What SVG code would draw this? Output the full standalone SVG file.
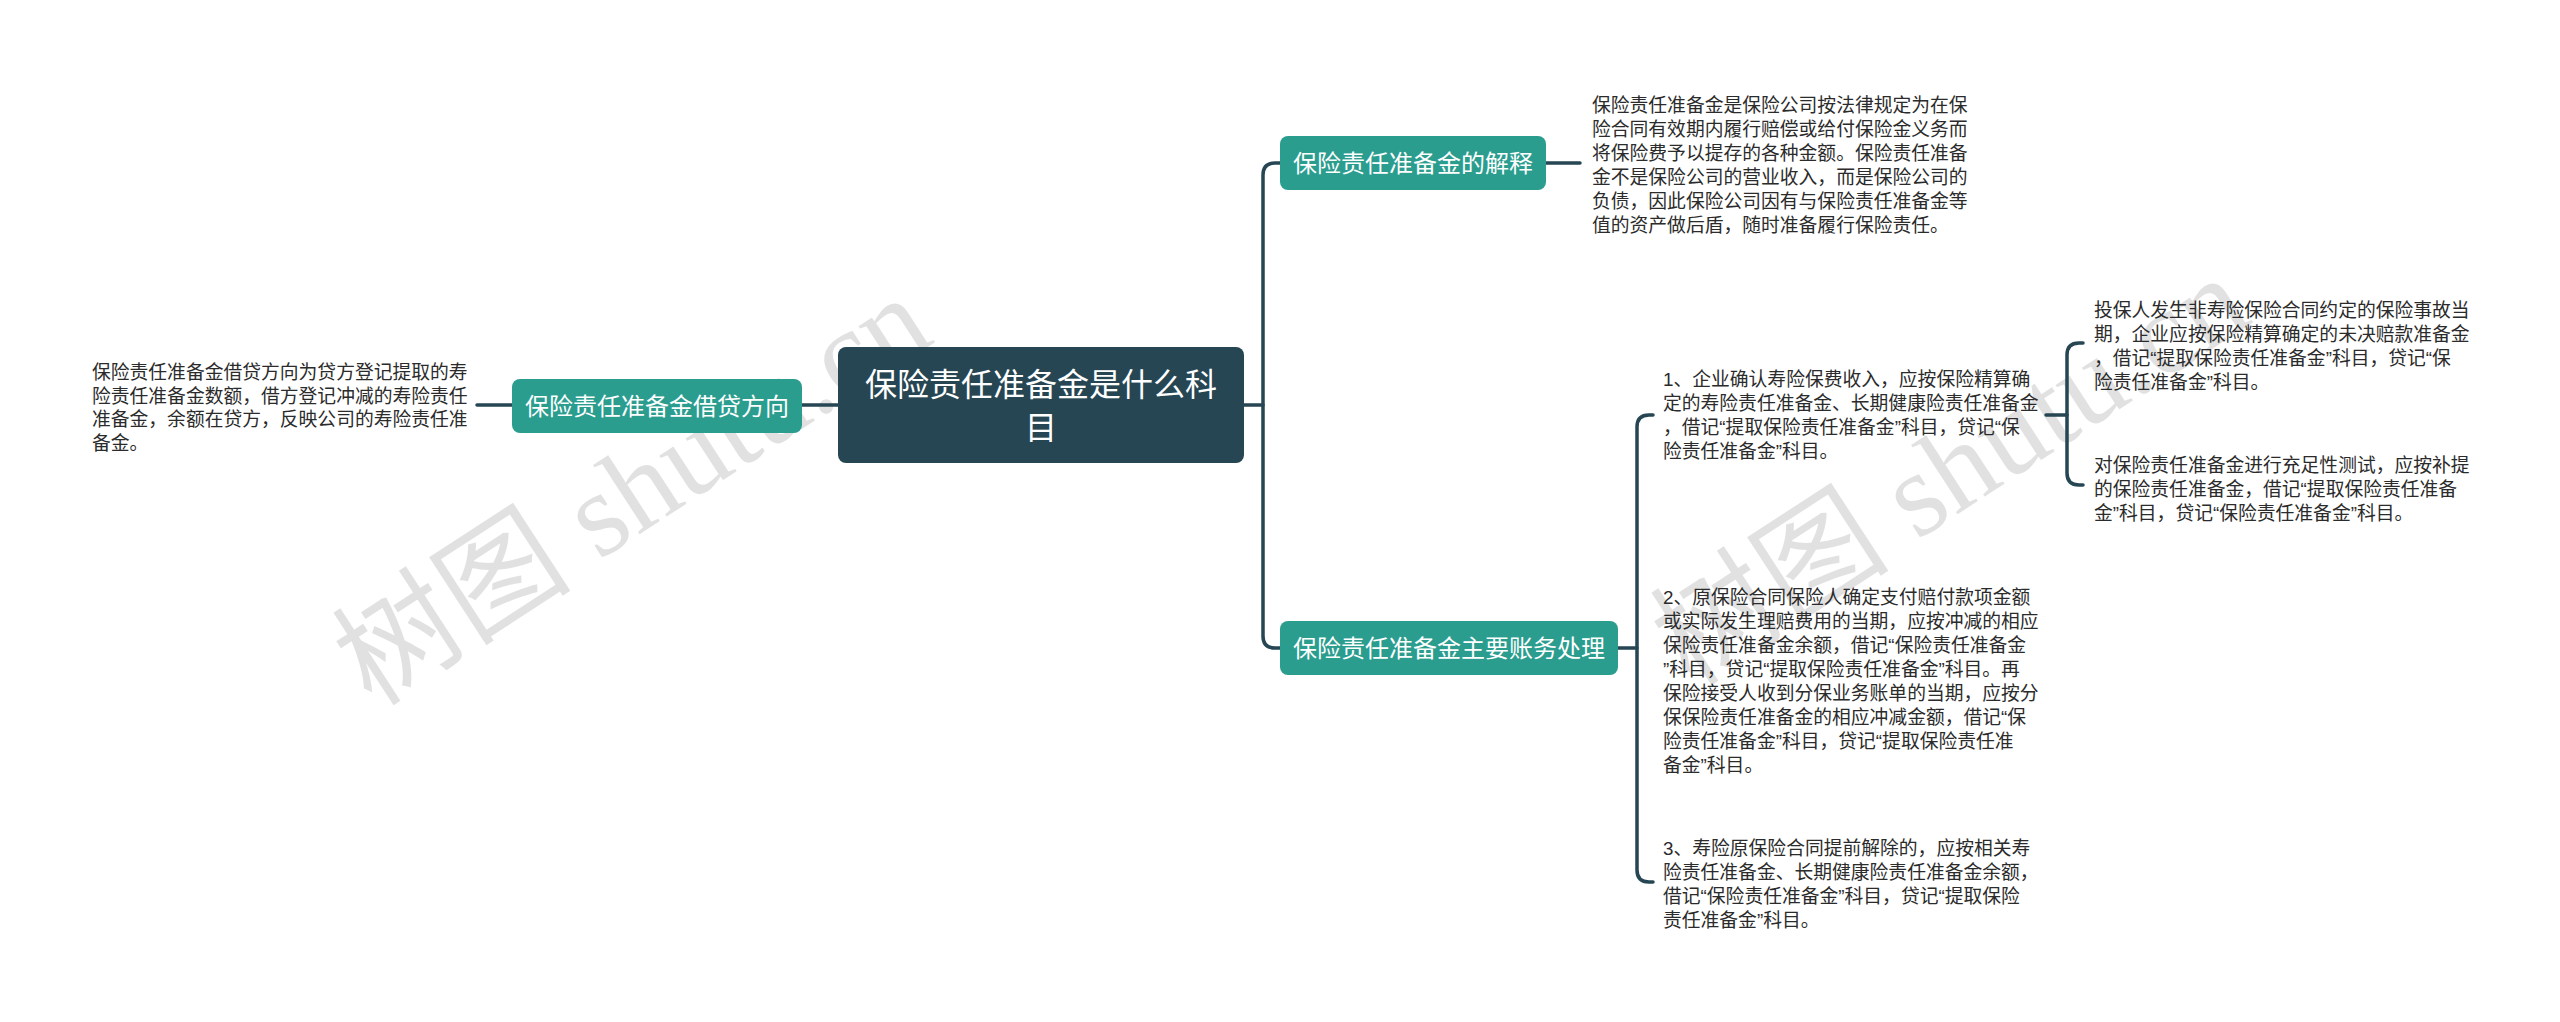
<svg xmlns="http://www.w3.org/2000/svg" width="2560" height="1022" viewBox="0 0 2560 1022">
<style>
.wm{font-family:"Liberation Serif","Noto Sans CJK SC",serif;font-size:120px;fill:#bcbcbc;fill-opacity:0.45}
.conn{fill:none;stroke:#264653;stroke-width:3.5;stroke-linecap:round}
.root{fill:#264653}
.main{fill:#2a9d8f}
.tr{font-family:"Noto Sans CJK SC",sans-serif;font-size:32px;fill:#ffffff;text-anchor:middle}
.tm{font-family:"Noto Sans CJK SC",sans-serif;font-size:24px;fill:#ffffff;text-anchor:middle}
.leaf{font-family:"Liberation Sans","Noto Sans CJK SC",sans-serif;font-size:18.8px;fill:#2b2b2b}
</style>
<rect width="2560" height="1022" fill="#ffffff"/>
<g id="watermark">
<text class="wm" transform="translate(372,708) rotate(-33)">树图 shutu.cn</text>
<text class="wm" transform="translate(1690,688) rotate(-33)">树图 shutu.cn</text>
</g>
<g id="connectors">
<path class="conn" d="M477,405 H512"/>
<path class="conn" d="M802,405 H838"/>
<path class="conn" d="M1244,405 H1263"/>
<path class="conn" d="M1280,163 H1275 Q1263,163 1263,175 V636 Q1263,648 1275,648 H1280"/>
<path class="conn" d="M1546,163 H1580"/>
<path class="conn" d="M1618,648 H1637"/>
<path class="conn" d="M1653,415 H1649 Q1637,415 1637,427 V870 Q1637,882 1649,882 H1653"/>
<path class="conn" d="M2046,415 H2067"/>
<path class="conn" d="M2083,343 H2079 Q2067,343 2067,355 V473 Q2067,485 2079,485 H2083"/>
</g>
<g id="root">
<rect class="root" x="838" y="347" width="406" height="116" rx="8"/>
<text class="tr" x="1041" y="396">保险责任准备金是什么科</text>
<text class="tr" x="1041" y="439">目</text>
</g>
<g id="node-left">
<rect class="main" x="512" y="379" width="290" height="54" rx="8"/>
<text class="tm" x="657" y="415">保险责任准备金借贷方向</text>
</g>
<g id="leaf-left">
<text class="leaf" x="92" y="379">保险责任准备金借贷方向为贷方登记提取的寿</text>
<text class="leaf" x="92" y="403">险责任准备金数额，借方登记冲减的寿险责任</text>
<text class="leaf" x="92" y="426">准备金，余额在贷方，反映公司的寿险责任准</text>
<text class="leaf" x="92" y="450">备金。</text>
</g>
<g id="node-explain">
<rect class="main" x="1280" y="136" width="266" height="54" rx="8"/>
<text class="tm" x="1413" y="172">保险责任准备金的解释</text>
</g>
<g id="leaf-explain">
<text class="leaf" x="1592" y="112">保险责任准备金是保险公司按法律规定为在保</text>
<text class="leaf" x="1592" y="136">险合同有效期内履行赔偿或给付保险金义务而</text>
<text class="leaf" x="1592" y="160">将保险费予以提存的各种金额。保险责任准备</text>
<text class="leaf" x="1592" y="184">金不是保险公司的营业收入，而是保险公司的</text>
<text class="leaf" x="1592" y="208">负债，因此保险公司因有与保险责任准备金等</text>
<text class="leaf" x="1592" y="232">值的资产做后盾，随时准备履行保险责任。</text>
</g>
<g id="node-account">
<rect class="main" x="1280" y="621" width="338" height="54" rx="8"/>
<text class="tm" x="1449" y="657">保险责任准备金主要账务处理</text>
</g>
<g id="leaf-1">
<text class="leaf" x="1663" y="386">1、企业确认寿险保费收入，应按保险精算确</text>
<text class="leaf" x="1663" y="410">定的寿险责任准备金、长期健康险责任准备金</text>
<text class="leaf" x="1663" y="434">，借记“提取保险责任准备金”科目，贷记“保</text>
<text class="leaf" x="1663" y="458">险责任准备金”科目。</text>
</g>
<g id="leaf-1a">
<text class="leaf" x="2094" y="317">投保人发生非寿险保险合同约定的保险事故当</text>
<text class="leaf" x="2094" y="341">期，企业应按保险精算确定的未决赔款准备金</text>
<text class="leaf" x="2094" y="365">，借记“提取保险责任准备金”科目，贷记“保</text>
<text class="leaf" x="2094" y="389">险责任准备金”科目。</text>
</g>
<g id="leaf-1b">
<text class="leaf" x="2094" y="472">对保险责任准备金进行充足性测试，应按补提</text>
<text class="leaf" x="2094" y="496">的保险责任准备金，借记“提取保险责任准备</text>
<text class="leaf" x="2094" y="520">金”科目，贷记“保险责任准备金”科目。</text>
</g>
<g id="leaf-2">
<text class="leaf" x="1663" y="604">2、原保险合同保险人确定支付赔付款项金额</text>
<text class="leaf" x="1663" y="628">或实际发生理赔费用的当期，应按冲减的相应</text>
<text class="leaf" x="1663" y="652">保险责任准备金余额，借记“保险责任准备金</text>
<text class="leaf" x="1663" y="676">”科目，贷记“提取保险责任准备金”科目。再</text>
<text class="leaf" x="1663" y="700">保险接受人收到分保业务账单的当期，应按分</text>
<text class="leaf" x="1663" y="724">保保险责任准备金的相应冲减金额，借记“保</text>
<text class="leaf" x="1663" y="748">险责任准备金”科目，贷记“提取保险责任准</text>
<text class="leaf" x="1663" y="772">备金”科目。</text>
</g>
<g id="leaf-3">
<text class="leaf" x="1663" y="855">3、寿险原保险合同提前解除的，应按相关寿</text>
<text class="leaf" x="1663" y="879">险责任准备金、长期健康险责任准备金余额，</text>
<text class="leaf" x="1663" y="903">借记“保险责任准备金”科目，贷记“提取保险</text>
<text class="leaf" x="1663" y="927">责任准备金”科目。</text>
</g>
</svg>
